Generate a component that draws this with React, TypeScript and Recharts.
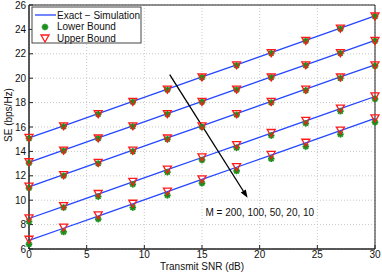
import React from 'react';
import { ComposedChart, Line, XAxis, YAxis, CartesianGrid, ReferenceArea, ReferenceLine, ReferenceDot } from 'recharts';

const snr = [0, 3, 6, 9, 12, 15, 18, 21, 24, 27, 30];

const exactM200 = [15.1, 16.1, 17.1, 18.1, 19.1, 20.1, 21.1, 22.1, 23.1, 24.1, 25.1];
const exactM100 = [13.1, 14.1, 15.1, 16.1, 17.1, 18.1, 19.1, 20.1, 21.1, 22.1, 23.1];
const exactM50 = [11.1, 12.1, 13.1, 14.1, 15.1, 16.1, 17.1, 18.1, 19.1, 20.1, 21.1];
const exactM20 = [8.5, 9.5, 10.5, 11.5, 12.5, 13.5, 14.5, 15.5, 16.5, 17.5, 18.5];
const exactM10 = [6.7, 7.7, 8.7, 9.7, 10.7, 11.7, 12.7, 13.7, 14.7, 15.7, 16.7];

const lowerM200 = [15.05, 16.05, 17.05, 18.05, 19.05, 20.05, 21.05, 22.05, 23.05, 24.05, 25.05];
const lowerM100 = [13.05, 14.05, 15.05, 16.05, 17.05, 18.05, 19.05, 20.05, 21.05, 22.05, 23.05];
const lowerM50 = [11.0, 12.0, 13.0, 14.0, 15.0, 16.0, 17.0, 18.0, 19.0, 20.0, 21.0];
const lowerM20 = [8.25, 9.4, 10.3, 11.3, 12.3, 13.3, 14.3, 15.3, 16.3, 17.3, 18.3];
const lowerM10 = [6.4, 7.4, 8.45, 9.4, 10.4, 11.4, 12.4, 13.4, 14.4, 15.4, 16.4];

const upperM200 = [15.15, 16.1, 17.1, 18.1, 19.1, 20.1, 21.1, 22.1, 23.1, 24.1, 25.1];
const upperM100 = [13.15, 14.1, 15.1, 16.1, 17.1, 18.1, 19.1, 20.1, 21.1, 22.1, 23.1];
const upperM50 = [11.15, 12.1, 13.1, 14.1, 15.1, 16.1, 17.1, 18.1, 19.1, 20.1, 21.1];
const upperM20 = [8.55, 9.55, 10.55, 11.55, 12.55, 13.55, 14.55, 15.55, 16.55, 17.55, 18.55];
const upperM10 = [6.8, 7.8, 8.8, 9.75, 10.75, 11.75, 12.75, 13.75, 14.75, 15.75, 16.75];

const xTicks = [0, 5, 10, 15, 20, 25, 30];
const yTicks = [6, 8, 10, 12, 14, 16, 18, 20, 22, 24, 26];

const seriesLabel = 'M = 200, 100, 50, 20, 10';
const legendLabels = ['Exact \u2212 Simulation', 'Lower Bound', 'Upper Bound'];

const exactSets = [exactM200, exactM100, exactM50, exactM20, exactM10];
const lowerSets = [lowerM200, lowerM100, lowerM50, lowerM20, lowerM10];
const upperSets = [upperM200, upperM100, upperM50, upperM20, upperM10];

const data = snr.map((s, i) => {
  const row: any = { snr: s };
  exactSets.forEach((arr, k) => (row['e' + k] = arr[i]));
  lowerSets.forEach((arr, k) => (row['l' + k] = arr[i]));
  upperSets.forEach((arr, k) => (row['u' + k] = arr[i]));
  return row;
});

const BLUE = '#2446ff';
const GREEN = '#1b8f1b';
const RED = '#ff1a1a';
const FONT = '"Liberation Sans", Arial, sans-serif';

const Star = (props: any) => {
  const { cx, cy } = props;
  if (cx == null || cy == null) return null;
  const r = 3.3;
  const d = r * 0.72;
  return (
    <g stroke={GREEN} strokeWidth={1.8}>
      <line x1={cx - r} y1={cy} x2={cx + r} y2={cy} />
      <line x1={cx} y1={cy - r} x2={cx} y2={cy + r} />
      <line x1={cx - d} y1={cy - d} x2={cx + d} y2={cy + d} />
      <line x1={cx - d} y1={cy + d} x2={cx + d} y2={cy - d} />
    </g>
  );
};

const Tri = (props: any) => {
  const { cx, cy } = props;
  if (cx == null || cy == null) return null;
  return (
    <polygon
      points={`${cx - 4},${cy - 3} ${cx + 4},${cy - 3} ${cx},${cy + 4}`}
      fill="none"
      stroke={RED}
      strokeWidth={1.3}
    />
  );
};

const Arrow = (props: any) => {
  const { x1, y1, x2, y2 } = props;
  if (x1 == null) return null;
  const ang = Math.atan2(y2 - y1, x2 - x1);
  const L = 8;
  const W = 3;
  const bx = x2 - L * Math.cos(ang);
  const by = y2 - L * Math.sin(ang);
  const px = -Math.sin(ang) * W;
  const py = Math.cos(ang) * W;
  return (
    <g>
      <line x1={x1} y1={y1} x2={bx} y2={by} stroke="#000" strokeWidth={1.3} />
      <polygon points={`${x2},${y2} ${bx + px},${by + py} ${bx - px},${by - py}`} fill="#000" />
    </g>
  );
};

const LabelText = (props: any) => {
  const { cx, cy } = props;
  if (cx == null) return null;
  return (
    <text x={cx} y={cy} fontSize={10} fontFamily={FONT} fill="#111" dominantBaseline="central">
      {seriesLabel}
    </text>
  );
};

const Legend = () => (
  <svg width={115} height={40} style={{ position: 'absolute', left: 31, top: 6 }}>
    <rect x={1} y={1} width={109} height={36} fill="#fff" stroke="#444" strokeWidth={1} />
    <line x1={4} y1={9} x2={25} y2={9} stroke={BLUE} strokeWidth={1.3} />
    <Star cx={14} cy={21} />
    <Tri cx={14} cy={32} />
    {legendLabels.map((t, i) => (
      <text key={t} x={26} y={9 + i * 11.5} fontSize={10} fontFamily={FONT} fill="#111" dominantBaseline="central">
        {t}
      </text>
    ))}
  </svg>
);

export default function App() {
  return (
    <div style={{ position: 'absolute', left: 0, top: 0, width: 382, height: 273, background: '#fff' }}>
      <ComposedChart width={382} height={273} data={data} margin={{ top: 5, right: 7, bottom: 0, left: 0 }}>
        <CartesianGrid stroke="#c8c8c8" strokeDasharray="1 2" />
        <XAxis
          dataKey="snr"
          type="number"
          domain={[0, 30]}
          ticks={xTicks}
          height={24}
          tickSize={-4}
          tickMargin={6}
          stroke="#222"
          tick={{ fontSize: 10, fontFamily: FONT, fill: '#111' }}
          label={{
            content: () => (
              <text x={202} y={266} textAnchor="middle" dominantBaseline="central" fontSize={10} fontFamily={FONT} fill="#111">
                Transmit SNR (dB)
              </text>
            ),
          }}
        />
        <YAxis
          type="number"
          domain={[6, 26]}
          ticks={yTicks}
          width={29}
          tickSize={-4}
          tickMargin={7}
          stroke="#222"
          tick={{ fontSize: 10, fontFamily: FONT, fill: '#111' }}
          label={{
            content: () => (
              <text x={8} y={115} transform="rotate(-90 8 115)" textAnchor="middle" dominantBaseline="central" fontSize={10} fontFamily={FONT} fill="#111">
                SE (bps/Hz)
              </text>
            ),
          }}
        />
        <ReferenceArea x1={0} x2={30} y1={6} y2={26} fill="none" stroke="#222" strokeWidth={1} fillOpacity={0} />
        {exactSets.map((_, k) => (
          <Line key={'e' + k} dataKey={'e' + k} stroke={BLUE} strokeWidth={1.3} dot={false} isAnimationActive={false} />
        ))}
        {lowerSets.map((_, k) => (
          <Line key={'l' + k} dataKey={'l' + k} stroke="none" dot={<Star />} activeDot={false} isAnimationActive={false} />
        ))}
        {upperSets.map((_, k) => (
          <Line key={'u' + k} dataKey={'u' + k} stroke="none" dot={<Tri />} activeDot={false} isAnimationActive={false} />
        ))}
        <ReferenceLine segment={[{ x: 12.2, y: 20.3 }, { x: 18.95, y: 10.2 }]} shape={<Arrow />} ifOverflow="visible" />
        <ReferenceDot x={15.3} y={9.0} r={0} shape={<LabelText />} ifOverflow="visible" />
      </ComposedChart>
      <Legend />
    </div>
  );
}
